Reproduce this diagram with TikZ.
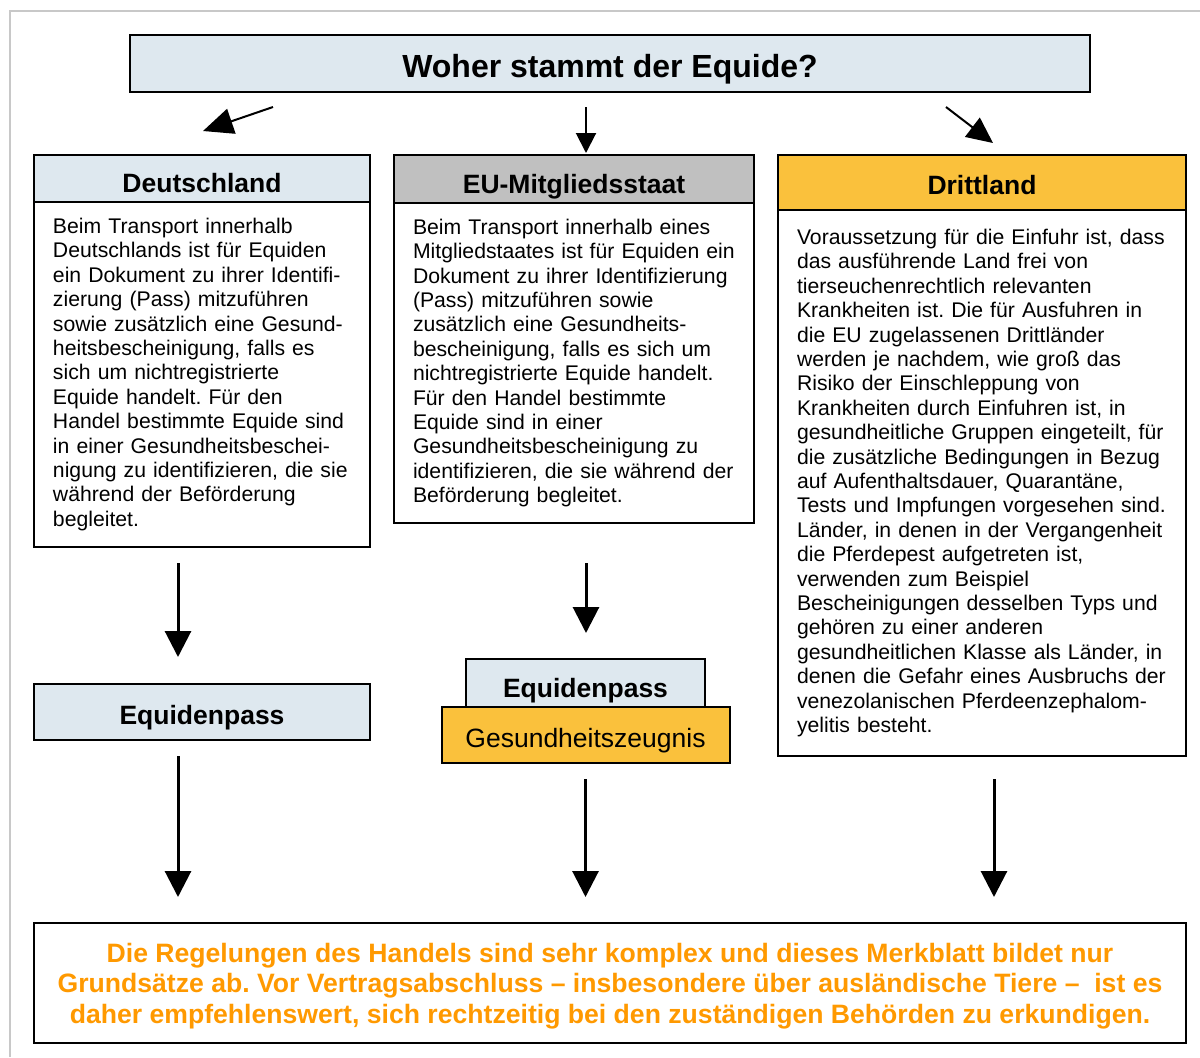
\documentclass[tikz,border=0pt]{standalone}
\usepackage{fontspec}
\setmainfont{Liberation Sans}
\usetikzlibrary{arrows.meta}
\definecolor{hellblau}{HTML}{DEE8EF}
\definecolor{hellgrau}{HTML}{C0C0C0}
\definecolor{gelb}{HTML}{FAC13C}
\definecolor{warntext}{HTML}{FF9900}
\definecolor{rahmen}{HTML}{C8C8C8}
\frenchspacing

\begin{document}
\begin{tikzpicture}[x=0.5pt,y=-0.5pt,
			every node/.style={inner sep=0pt,outer sep=0pt},
			kopf/.style={draw=black,line width=1pt,anchor=north west,text height=14pt,text depth=0pt,
				font=\bfseries\fontsize{13.25}{16}\selectfont},
			textbox/.style={draw=black,line width=1pt,anchor=north,align=left,
				inner xsep=9.5pt,font=\fontsize{10.6}{12.2}\selectfont},
			pfeil/.style={line width=1.5pt,-{Triangle[length=13pt,width=13pt]}},
			kpfeil/.style={line width=1pt,-{Triangle[length=13pt,width=12pt]}}
			]
			\useasboundingbox (0,0) rectangle (1200,1057);
			\draw[rahmen,line width=1pt] (10,1057) -- (10,11) -- (1200,11);
			
			% Frage oben
			\node[kopf,fill=hellblau,minimum width=480pt,minimum height=28.5pt,text height=13.5pt,
				font=\bfseries\fontsize{16}{19}\selectfont] (frage) at (130,35) {Woher stammt der Equide?};
			
			% drei Spalten
			\node[kopf,fill=hellblau,minimum width=168pt,minimum height=23.5pt] (deKopf) at (34,155) {Deutschland};
			\node[textbox,text width=149pt,minimum height=172.5pt] (deText) at (deKopf.south) {%
				Beim Transport innerhalb\\
				Deutschlands ist für Equiden\\
				ein Dokument zu ihrer Identifi-\\
				zierung (Pass) mitzuführen\\
				sowie zusätzlich eine Gesund-\\
				heitsbescheinigung, falls es\\
				sich um nichtregistrierte\\
				Equide handelt. Für den\\
				Handel bestimmte Equide sind\\
				in einer Gesundheitsbeschei-\\
				nigung zu identifizieren, die sie\\
				während der Beförderung\\
				begleitet.};
			
			\node[kopf,fill=hellgrau,minimum width=180pt,minimum height=24pt] (euKopf) at (394,155) {EU-Mitgliedsstaat};
			\node[textbox,text width=161pt,minimum height=160pt] (euText) at (euKopf.south) {%
				Beim Transport innerhalb eines\\
				Mitgliedstaates ist für Equiden ein\\
				Dokument zu ihrer Identifizierung\\
				(Pass) mitzuführen sowie\\
				zusätzlich eine Gesundheits-\\
				bescheinigung, falls es sich um\\
				nichtregistrierte Equide handelt.\\
				Für den Handel bestimmte\\
				Equide sind in einer\\
				Gesundheitsbescheinigung zu\\
				identifizieren, die sie während der\\
				Beförderung begleitet.};
			
			\node[kopf,fill=gelb,minimum width=204pt,minimum height=27.5pt,text height=11.5pt] (drKopf) at (778,155) {Drittland};
			\node[textbox,text width=185pt,minimum height=273pt] (drText) at (drKopf.south) {%
				Voraussetzung für die Einfuhr ist, dass\\
				das ausführende Land frei von\\
				tierseuchenrechtlich relevanten\\
				Krankheiten ist. Die für Ausfuhren in\\
				die EU zugelassenen Drittländer\\
				werden je nachdem, wie groß das\\
				Risiko der Einschleppung von\\
				Krankheiten durch Einfuhren ist, in\\
				gesundheitliche Gruppen eingeteilt, für\\
				die zusätzliche Bedingungen in Bezug\\
				auf Aufenthaltsdauer, Quarantäne,\\
				Tests und Impfungen vorgesehen sind.\\
				Länder, in denen in der Vergangenheit\\
				die Pferdepest aufgetreten ist,\\
				verwenden zum Beispiel\\
				Bescheinigungen desselben Typs und\\
				gehören zu einer anderen\\
				gesundheitlichen Klasse als Länder, in\\
				denen die Gefahr eines Ausbruchs der\\
				venezolanischen Pferdeenzephalom-\\
				yelitis besteht.};
			
			% Dokumente
			\node[kopf,fill=hellblau,minimum width=168pt,minimum height=28pt,text height=12pt] (dePass) at (34,684) {Equidenpass};
			\node[kopf,fill=hellblau,minimum width=119.5pt,minimum height=24pt] (euPass) at (466,659) {Equidenpass};
			\node[kopf,fill=gelb,anchor=north,minimum width=144pt,minimum height=28pt,text height=12pt,
				font=\fontsize{13.25}{16}\selectfont] (euZeugnis) at (euPass.south) {Gesundheitszeugnis};
			
			% Hinweis unten
			\node[draw=black,line width=1pt,anchor=north west,minimum width=576pt,minimum height=60pt,
				align=center,text=warntext,text depth=0pt,
				font=\bfseries\fontsize{13.3}{15.25}\selectfont] (hinweis) at (34,923) {%
				Die Regelungen des Handels sind sehr komplex und dieses Merkblatt bildet nur\\
				Grundsätze ab. Vor Vertragsabschluss – insbesondere über ausländische Tiere –\ \ ist es\\
				daher empfehlenswert, sich rechtzeitig bei den zuständigen Behörden zu erkundigen.};
			
			% Pfeile
			\coordinate (l0) at (273,107);
			\coordinate (l1) at (203,131);
			\coordinate (m0) at (586,107);
			\coordinate (m1) at (586,153);
			\coordinate (r0) at (946,107);
			\coordinate (r1) at (993,143);
			\draw[kpfeil,-{Triangle[length=15pt,width=13pt]}] (l0) -- (l1);
			\draw[kpfeil,-{Triangle[length=10pt,width=10pt]}] (m0) -- (m1);
			\draw[kpfeil] (r0) -- (r1);
			
			\draw[pfeil,shorten <=8pt,shorten >=13.5pt] ([xshift=-12pt]deText.south) -- ([xshift=-12pt]dePass.north);
			\draw[pfeil,shorten <=20pt,shorten >=13pt] ([xshift=6pt]euText.south) -- ([xshift=6pt]euText.south |- euPass.north);
			\draw[pfeil,shorten <=8pt,shorten >=13pt] ([xshift=-12pt]dePass.south) -- ([xshift=-12pt]dePass.south |- hinweis.north);
			\draw[pfeil,shorten <=8pt,shorten >=13pt] (euZeugnis.south) -- (euZeugnis.south |- hinweis.north);
			\draw[pfeil,shorten <=11.5pt,shorten >=13pt] ([xshift=6pt]drText.south) -- ([xshift=6pt]drText.south |- hinweis.north);
		\end{tikzpicture}
\end{document}
